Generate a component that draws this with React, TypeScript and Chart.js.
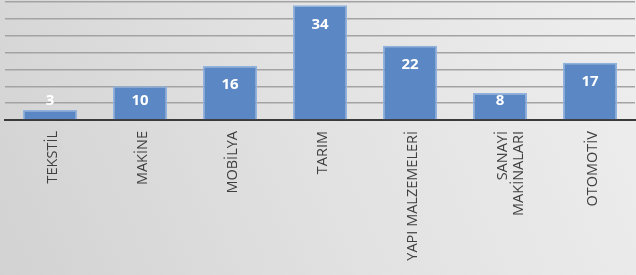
import React, { useEffect, useRef } from "react";
import { Chart, registerables } from "chart.js";

Chart.register(...registerables);

const categories: (string | string[])[] = [
  "TEKSTİL",
  "MAKİNE",
  "MOBİLYA",
  "TARIM",
  "YAPI MALZEMELERİ",
  ["SANAYİ", "MAKİNALARI"],
  "OTOMOTİV",
];
const values: number[] = [3, 10, 16, 34, 22, 8, 17];
const yMin = 0;
const yMax = 35;
const yStep = 5;

const bgPlugin = {
  id: "bgGrad",
  beforeDraw(chart: any) {
    const { ctx, width, height } = chart;
    const g = ctx.createLinearGradient(0, height, width, 0);
    g.addColorStop(0, "#d2d2d2");
    g.addColorStop(0.5, "#e2e2e2");
    g.addColorStop(1, "#eeeeee");
    ctx.save();
    ctx.fillStyle = g;
    ctx.fillRect(0, 0, width, height);
    ctx.restore();
  },
};

const labelPlugin = {
  id: "barLabels",
  afterDatasetsDraw(chart: any) {
    const { ctx } = chart;
    const meta = chart.getDatasetMeta(0);
    const yScale = chart.scales.y;
    const base = yScale.getPixelForValue(0);
    ctx.save();
    ctx.fillStyle = "#ffffff";
    ctx.font = "bold 15px 'Open Sans', sans-serif";
    ctx.textAlign = "center";
    ctx.textBaseline = "middle";
    meta.data.forEach((bar: any, i: number) => {
      const top = yScale.getPixelForValue(values[i]);
      const cy = Math.min(top + 19, base - 19);
      ctx.fillText(String(values[i]), bar.x, cy);
    });
    ctx.restore();
  },
};

export default function App() {
  const ref = useRef<HTMLCanvasElement | null>(null);
  useEffect(() => {
    if (!ref.current) return;
    const chart = new Chart(ref.current, {
      type: "bar",
      data: {
        labels: categories,
        datasets: [
          {
            data: values,
            backgroundColor: "#5b88c4",
            borderColor: "#8fb2de",
            borderWidth: 1.5,
            categoryPercentage: 1,
            barPercentage: 0.6,
          },
        ],
      },
      options: {
        animation: false,
        responsive: false,
        maintainAspectRatio: false,
        layout: { padding: { left: 5, right: 1, top: 2, bottom: 0 } },
        plugins: { legend: { display: false }, tooltip: { enabled: false } },
        scales: {
          x: {
            grid: { display: false },
            border: { display: true, color: "#3a3a3a", width: 2 },
            afterFit(scale: any) {
              scale.height = 155;
            },
            ticks: {
              maxRotation: 90,
              minRotation: 90,
              autoSkip: false,
              color: "#404040",
              padding: 3,
              labelOffset: 3,
              font: { family: "'Open Sans', sans-serif", size: 14.5, lineHeight: 1.1 },
            },
          },
          y: {
            min: yMin,
            max: yMax,
            display: true,
            ticks: { display: false, stepSize: yStep },
            border: { display: false },
            grid: { color: "#a3a3a3", lineWidth: 1.5, drawTicks: false },
          },
        },
      },
      plugins: [bgPlugin, labelPlugin],
    });
    return () => chart.destroy();
  }, []);
  return (
    <div style={{ position: "fixed", left: 0, top: 0, width: 636, height: 275 }}>
      <canvas ref={ref} width={636} height={275} style={{ width: 636, height: 275, display: "block" }} />
    </div>
  );
}
